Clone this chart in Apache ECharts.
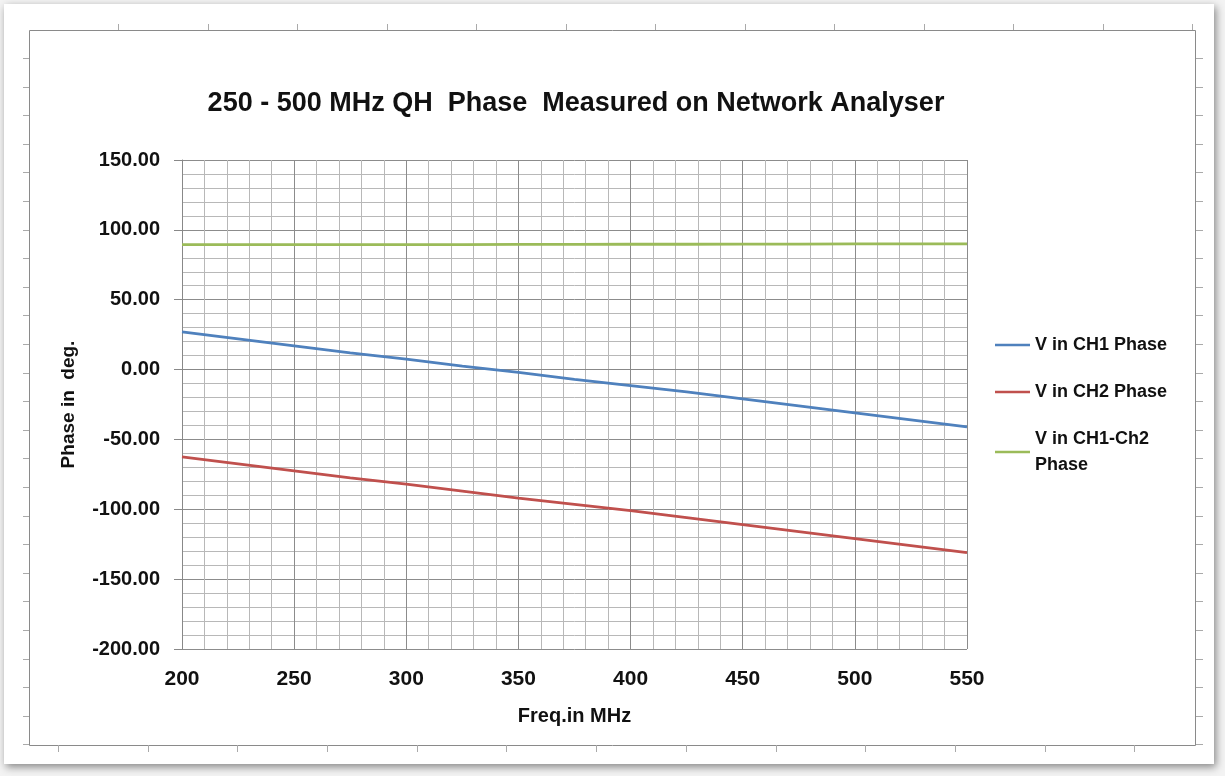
<!DOCTYPE html>
<html><head><meta charset="utf-8">
<script src="https://cdn.jsdelivr.net/npm/echarts@6/dist/echarts.min.js"></script>
<style>html,body{margin:0;padding:0;background:#fff}#c{width:1225px;height:776px}</style>
</head><body><div id="c"></div>
<script>
const freq = [200,225,250,275,300,325,350,375,400,425,450,475,500,525,550];
const ch1Phase = [27,22,17,12,7.5,2.5,-2,-7,-11.5,-16,-21,-26,-31,-36,-41];
const ch2Phase = [-62.5,-67.5,-72.5,-77.5,-82,-87,-92,-96.5,-101,-106,-111,-116,-121,-126,-131];
const diffPhase = [89.5,89.5,89.5,89.5,89.5,89.5,89.6,89.6,89.7,89.7,89.8,89.8,89.9,90,90];
const seriesNames = ['V in CH1 Phase','V in CH2 Phase','V in CH1-Ch2\nPhase'];
const colors = ['#4F81BD','#C0504D','#9BBB59'];

const pair = (v) => freq.map((f,i)=>[f,v[i]]);
const font = 'Liberation Sans, Arial, sans-serif';

// decorative page frame
const deco = [];
deco.push({type:'rect', shape:{x:4,y:4,width:1210,height:760}, style:{fill:'#fff', shadowColor:'rgba(0,0,0,0.45)', shadowBlur:8, shadowOffsetX:2, shadowOffsetY:3}, z:-10});
deco.push({type:'rect', shape:{x:29.5,y:30.5,width:1166,height:715}, style:{fill:'none', stroke:'#8a8a8a', lineWidth:1}, z:-9});
for (let x=118; x<1195; x+=89.5) deco.push({type:'line', shape:{x1:Math.round(x)+0.5,y1:24,x2:Math.round(x)+0.5,y2:30}, style:{stroke:'#aaa'}, z:-9});
for (let x=58; x<1195; x+=89.7) deco.push({type:'line', shape:{x1:Math.round(x)+0.5,y1:745,x2:Math.round(x)+0.5,y2:752}, style:{stroke:'#aaa'}, z:-9});
for (let y=58; y<745; y+=28.6) {
  deco.push({type:'line', shape:{x1:23,y1:Math.round(y)+0.5,x2:29,y2:Math.round(y)+0.5}, style:{stroke:'#aaa'}, z:-9});
  deco.push({type:'line', shape:{x1:1196,y1:Math.round(y)+0.5,x2:1203,y2:Math.round(y)+0.5}, style:{stroke:'#aaa'}, z:-9});
}

const chart = echarts.init(document.getElementById('c'));
chart.setOption({
  backgroundColor:'#f3f3f3',
  animation:false,
  graphic: deco,
  title:{text:'250 - 500 MHz QH  Phase  Measured on Network Analyser', left:571, top:85, textAlign:'center',
    textStyle:{fontFamily:font, fontWeight:'bold', fontSize:27, color:'#111'}},
  legend:{orient:'vertical', left:990, top:327, itemWidth:35, itemHeight:2.5, itemGap:21, icon:'rect',
    textStyle:{fontFamily:font, fontWeight:'bold', fontSize:18, color:'#111', lineHeight:26},
    data: seriesNames},
  grid:{left:182, right:258, top:160, bottom:127, containLabel:false},
  xAxis:{type:'value', min:200, max:550, interval:50,
    name:'Freq.in MHz', nameLocation:'middle', nameGap:57,
    nameTextStyle:{fontFamily:font, fontWeight:'bold', fontSize:20, color:'#111'},
    axisLine:{show:true, lineStyle:{color:'#888'}}, axisTick:{show:false},
    axisLabel:{fontFamily:font, fontWeight:'bold', fontSize:21, color:'#111', margin:20},
    splitLine:{show:true, lineStyle:{color:'#8c8c8c', width:1}},
    minorTick:{show:false, splitNumber:5},
    minorSplitLine:{show:true, lineStyle:{color:'#b8b8b8', width:1}}},
  yAxis:{type:'value', min:-200, max:150, interval:50,
    name:'Phase in  deg.', nameLocation:'middle', nameGap:104, nameRotate:90,
    nameTextStyle:{fontFamily:font, fontWeight:'bold', fontSize:19, color:'#111'},
    axisLine:{show:true, lineStyle:{color:'#888'}},
    axisTick:{show:true, length:8, lineStyle:{color:'#888'}},
    axisLabel:{fontFamily:font, fontWeight:'bold', fontSize:20, color:'#111', margin:22, formatter:(v)=>v.toFixed(2)},
    splitLine:{show:true, lineStyle:{color:'#8c8c8c', width:1}},
    minorTick:{show:false, splitNumber:5},
    minorSplitLine:{show:true, lineStyle:{color:'#b8b8b8', width:1}}},
  series:[
    {name:seriesNames[0], type:'line', data:pair(ch1Phase), showSymbol:false, lineStyle:{color:colors[0], width:2.8}, itemStyle:{color:colors[0]}},
    {name:seriesNames[1], type:'line', data:pair(ch2Phase), showSymbol:false, lineStyle:{color:colors[1], width:2.8}, itemStyle:{color:colors[1]}},
    {name:seriesNames[2], type:'line', data:pair(diffPhase), showSymbol:false, lineStyle:{color:colors[2], width:2.8}, itemStyle:{color:colors[2]}}
  ]
});
</script></body></html>
